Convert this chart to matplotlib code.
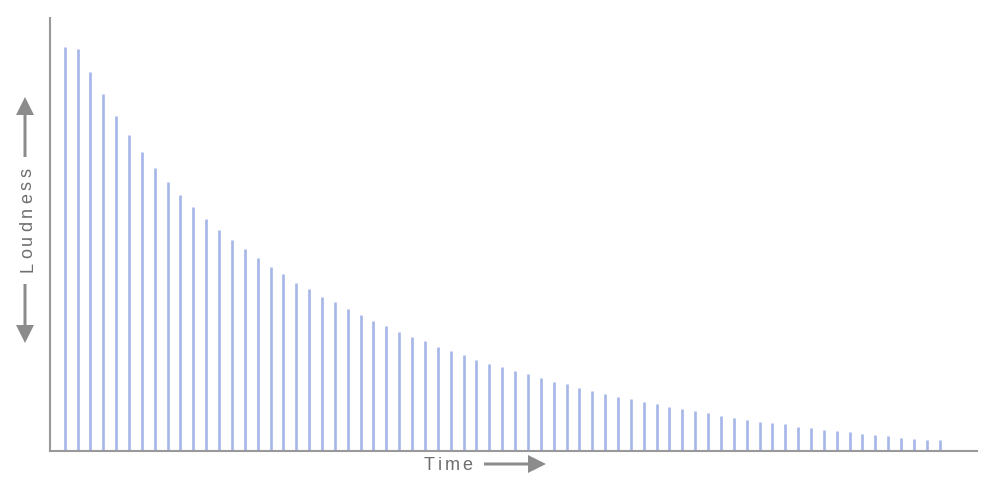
import matplotlib
matplotlib.use("Agg")
import matplotlib.pyplot as plt
from matplotlib.font_manager import FontProperties
from matplotlib.patches import FancyArrow
from matplotlib.transforms import IdentityTransform

# ---- data ----
loudness = [404, 402, 379, 357, 335, 316, 299, 283, 269, 256,
            244, 232, 221, 211, 202, 193, 184, 177, 168, 162,
            154, 149, 142, 136, 130, 125, 119, 114, 110, 104,
            100, 96, 91, 87, 84, 80, 77, 73, 69, 67,
            63, 60, 57, 54, 52, 49, 47, 44, 42, 40,
            38, 35, 33, 31, 29, 28, 27, 24, 23, 21,
            20, 19, 17, 16, 15, 13, 12, 11, 11]
time_steps = list(range(1, len(loudness) + 1))
x_label = "Time"
y_label = "Loudness"

W, H = 1007, 483
fig = plt.figure(figsize=(W / 100, H / 100), dpi=100)
fig.patch.set_facecolor("white")

ax = fig.add_axes([50 / W, 32 / H, 927 / W, 433 / H])
ax.vlines(time_steps, 0, loudness, color="#a6b6e8", lw=1.9)
ax.set_xlim(-0.14, 71.9)
ax.set_ylim(0, 433)
for s in ["top", "right"]:
    ax.spines[s].set_visible(False)
for s in ["left", "bottom"]:
    ax.spines[s].set_color("#999999")
    ax.spines[s].set_linewidth(1.5)
ax.set_xticks([])
ax.set_yticks([])
ax.set_facecolor("white")

gray = "#8c8c8c"
tcol = "#6e6e6e"
ident = IdentityTransform()


def arrow(x0, y0, x1, y1):
    # image pixel coordinates (y down) -> display (y up)
    a = FancyArrow(x0, H - y0, x1 - x0, -(y1 - y0), width=3, head_width=18,
                   head_length=18, length_includes_head=True, color=gray,
                   transform=ident, lw=0)
    fig.add_artist(a)


arrow(25, 157, 25, 97)
arrow(25, 284, 25, 343)
arrow(484, 464, 546, 464)

prop = FontProperties(family=["Liberation Sans", "DejaVu Sans"], size=13)
fig.canvas.draw()
renderer = fig.canvas.get_renderer()


def spaced(text, x, y, total, vertical=False):
    widths = [renderer.get_text_width_height_descent(c, prop, ismath=False)[0]
              for c in text]
    gap = (total - sum(widths)) / (len(text) - 1)
    pos = 0.0
    for c, w in zip(text, widths):
        if vertical:
            fig.text(x, H - (y - pos), c, fontproperties=prop, color=tcol,
                     rotation=90, rotation_mode="anchor", ha="left",
                     va="baseline", transform=ident)
        else:
            fig.text(x + pos, H - y, c, fontproperties=prop, color=tcol,
                     ha="left", va="baseline", transform=ident)
        pos += w + gap


spaced(x_label, 424, 470, 48)
spaced(y_label, 32, 272, 104, vertical=True)

fig.savefig("out.png", dpi=100, facecolor="white")
